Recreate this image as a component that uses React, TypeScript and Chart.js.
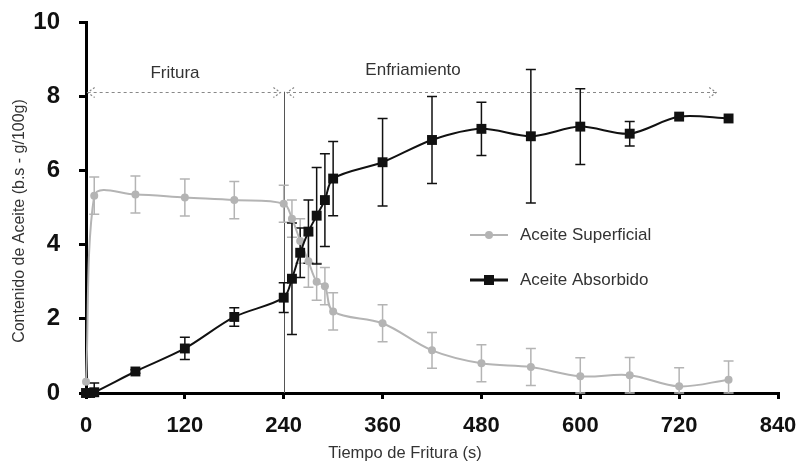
import { useEffect, useRef } from 'react';
import { Chart, registerables } from 'chart.js';

Chart.register(...registerables);

// ---- Data ----
const xTicks = [0, 120, 240, 360, 480, 600, 720, 840];
const yTicks = [0, 2, 4, 6, 8, 10];

const absorbedTimes = [0, 5, 10, 60, 120, 180, 240, 250, 260, 270, 280, 290, 300, 360, 420, 480, 540, 600, 660, 720, 780];
const absorbedValues = [0, 0, 0.02, 0.58, 1.2, 2.05, 2.57, 3.08, 3.78, 4.35, 4.78, 5.2, 5.78, 6.22, 6.82, 7.12, 6.92, 7.18, 6.99, 7.45, 7.4];
const absorbedErrors = [0, 0, 0.25, 0.05, 0.3, 0.25, 0.4, 1.5, 0.67, 0.85, 1.3, 1.25, 1.0, 1.18, 1.17, 0.72, 1.8, 1.02, 0.33, 0, 0];

const superficialTimes = [0, 10, 60, 120, 180, 240, 250, 260, 270, 280, 290, 300, 360, 420, 480, 540, 600, 660, 720, 780];
const superficialValues = [0.3, 5.32, 5.35, 5.27, 5.2, 5.1, 4.7, 4.1, 3.55, 3.0, 2.88, 2.2, 1.88, 1.15, 0.8, 0.7, 0.45, 0.48, 0.18, 0.36];
const superficialErrors = [0, 0.5, 0.5, 0.5, 0.5, 0.5, 0.5, 0.6, 0.7, 0.5, 0.5, 0.5, 0.5, 0.48, 0.5, 0.5, 0.5, 0.48, 0.5, 0.5];

const seriesLabels = ['Aceite Superficial', 'Aceite Absorbido'];
const phaseLabels = ['Fritura', 'Enfriamiento'];
const phaseLabelPos = [[108, 8.62], [397, 8.7]];
const phaseArrows = [[2, 236], [244, 765]];
const phaseArrowLevel = 8.12;
const phaseBoundary = 240;

const xTitle = 'Tiempo de Fritura (s)';
const yTitle = 'Contenido de Aceite (b.s - g/100g)';

const FONT = "'Liberation Sans', Arial, sans-serif";
const GRAY = '#b4b4b4';
const BLACK = '#111111';

function toPoints(ts: number[], vs: number[]) {
  return ts.map((t, i) => ({ x: t, y: vs[i] }));
}

const errorBarsPlugin = {
  id: 'errorBars',
  beforeDatasetsDraw(chart: any) {
    const { ctx, scales } = chart;
    const x = scales.x, y = scales.y;
    const sets = [
      { t: superficialTimes, v: superficialValues, e: superficialErrors, c: GRAY },
      { t: absorbedTimes, v: absorbedValues, e: absorbedErrors, c: BLACK },
    ];
    ctx.save();
    // phase boundary vertical line
    ctx.strokeStyle = '#555';
    ctx.lineWidth = 1;
    ctx.beginPath();
    const bx = Math.round(x.getPixelForValue(phaseBoundary)) + 0.5;
    ctx.moveTo(bx, y.getPixelForValue(phaseArrowLevel));
    ctx.lineTo(bx, y.getPixelForValue(0));
    ctx.stroke();

    for (const s of sets) {
      ctx.strokeStyle = s.c;
      ctx.lineWidth = 1.5;
      s.t.forEach((t, i) => {
        const e = s.e[i];
        if (!e) return;
        const px = x.getPixelForValue(t);
        const top = y.getPixelForValue(s.v[i] + e);
        const bot = y.getPixelForValue(Math.max(s.v[i] - e, 0));
        ctx.beginPath();
        ctx.moveTo(px, top);
        ctx.lineTo(px, bot);
        ctx.moveTo(px - 5, top);
        ctx.lineTo(px + 5, top);
        ctx.moveTo(px - 5, bot);
        ctx.lineTo(px + 5, bot);
        ctx.stroke();
      });
    }
    ctx.restore();
  },
  afterDraw(chart: any) {
    const { ctx, scales, chartArea } = chart;
    const x = scales.x, y = scales.y;
    ctx.save();
    // phase arrows
    ctx.strokeStyle = '#888';
    ctx.lineWidth = 1.2;
    const ay = Math.round(y.getPixelForValue(phaseArrowLevel)) + 0.5;
    phaseArrows.forEach(([a, b]) => {
      const x1 = x.getPixelForValue(a), x2 = x.getPixelForValue(b);
      ctx.setLineDash([3, 3]);
      ctx.beginPath();
      ctx.moveTo(x1, ay);
      ctx.lineTo(x2, ay);
      ctx.stroke();
      ctx.setLineDash([2, 2]);
      ctx.beginPath();
      ctx.moveTo(x1 + 7, ay - 5);
      ctx.lineTo(x1, ay);
      ctx.lineTo(x1 + 7, ay + 5);
      ctx.moveTo(x2 - 7, ay - 5);
      ctx.lineTo(x2, ay);
      ctx.lineTo(x2 - 7, ay + 5);
      ctx.stroke();
    });
    ctx.setLineDash([]);
    // phase labels
    ctx.fillStyle = '#333';
    ctx.font = `17px ${FONT}`;
    ctx.textAlign = 'center';
    ctx.textBaseline = 'middle';
    phaseLabels.forEach((lab, i) => {
      ctx.fillText(lab, x.getPixelForValue(phaseLabelPos[i][0]), y.getPixelForValue(phaseLabelPos[i][1]));
    });

    // legend
    const ds = chart.data.datasets;
    const lx = chartArea.left + 384;
    const rows = [
      { label: ds[0].label, c: GRAY, y: chartArea.top + 213, shape: 'circle' },
      { label: ds[1].label, c: BLACK, y: chartArea.top + 258, shape: 'rect' },
    ];
    rows.forEach((r) => {
      ctx.strokeStyle = r.c;
      ctx.fillStyle = r.c;
      ctx.lineWidth = r.shape === 'rect' ? 3 : 2;
      ctx.beginPath();
      ctx.moveTo(lx, r.y);
      ctx.lineTo(lx + 38, r.y);
      ctx.stroke();
      ctx.beginPath();
      if (r.shape === 'circle') {
        ctx.arc(lx + 19, r.y, 4, 0, Math.PI * 2);
      } else {
        ctx.rect(lx + 14, r.y - 5, 10, 10);
      }
      ctx.fill();
      ctx.fillStyle = '#333';
      ctx.font = `17px ${FONT}`;
      ctx.textAlign = 'left';
      ctx.textBaseline = 'middle';
      ctx.fillText(r.label, lx + 50, r.y);
    });

    // axis titles
    ctx.fillStyle = '#333';
    ctx.font = `16.5px ${FONT}`;
    ctx.textAlign = 'center';
    ctx.textBaseline = 'middle';
    ctx.fillText(xTitle, 405, 453);
    ctx.translate(20, 221);
    ctx.rotate(-Math.PI / 2);
    ctx.font = `16px ${FONT}`;
    ctx.fillText(yTitle, 0, 0);
    ctx.restore();
  },
};

export default function App() {
  const ref = useRef<HTMLCanvasElement>(null);
  useEffect(() => {
    const chart = new Chart(ref.current as HTMLCanvasElement, {
      type: 'line',
      data: {
        datasets: [
          {
            label: seriesLabels[0],
            data: toPoints(superficialTimes, superficialValues),
            borderColor: GRAY,
            backgroundColor: GRAY,
            borderWidth: 2,
            pointStyle: 'circle',
            pointRadius: 4,
            pointBorderWidth: 0,
            tension: 0.35,
            clip: false as any,
            order: 2,
          },
          {
            label: seriesLabels[1],
            data: toPoints(absorbedTimes, absorbedValues),
            borderColor: BLACK,
            backgroundColor: BLACK,
            borderWidth: 2,
            pointStyle: 'rect',
            pointRadius: 7,
            pointBorderWidth: 0,
            tension: 0.3,
            clip: false as any,
            order: 1,
          },
        ],
      },
      options: {
        responsive: false,
        animation: false,
        layout: { padding: { top: 22, right: 20, left: 0, bottom: 0 } },
        plugins: { legend: { display: false }, tooltip: { enabled: false } },
        scales: {
          x: {
            type: 'linear',
            min: xTicks[0],
            max: xTicks[xTicks.length - 1],
            afterBuildTicks: (s: any) => { s.ticks = xTicks.map((v) => ({ value: v })); },
            afterFit: (s: any) => { s.height = 73; s.paddingLeft = 0; s.paddingRight = 0; },
            grid: { drawOnChartArea: false, drawTicks: true, tickLength: 6, color: '#000', lineWidth: 3 },
            border: { display: true, color: '#000', width: 3 },
            ticks: { color: '#111', font: { family: FONT, size: 22, weight: 'bold' }, padding: 14, maxRotation: 0 },
          },
          y: {
            type: 'linear',
            min: yTicks[0],
            max: yTicks[yTicks.length - 1],
            afterBuildTicks: (s: any) => { s.ticks = yTicks.map((v) => ({ value: v })); },
            afterFit: (s: any) => { s.width = 86; s.paddingTop = 0; s.paddingBottom = 0; },
            grid: { drawOnChartArea: false, drawTicks: true, tickLength: 7, color: '#000', lineWidth: 3 },
            border: { display: true, color: '#000', width: 3 },
            ticks: { color: '#111', font: { family: FONT, size: 24, weight: 'bold' }, padding: 19 },
          },
        },
      },
      plugins: [errorBarsPlugin],
    } as any);
    return () => chart.destroy();
  }, []);
  return (
    <div style={{ position: 'fixed', left: 0, top: 0, width: 798, height: 466, background: '#fff' }}>
      <canvas ref={ref} width={798} height={466} style={{ display: 'block' }} />
    </div>
  );
}
